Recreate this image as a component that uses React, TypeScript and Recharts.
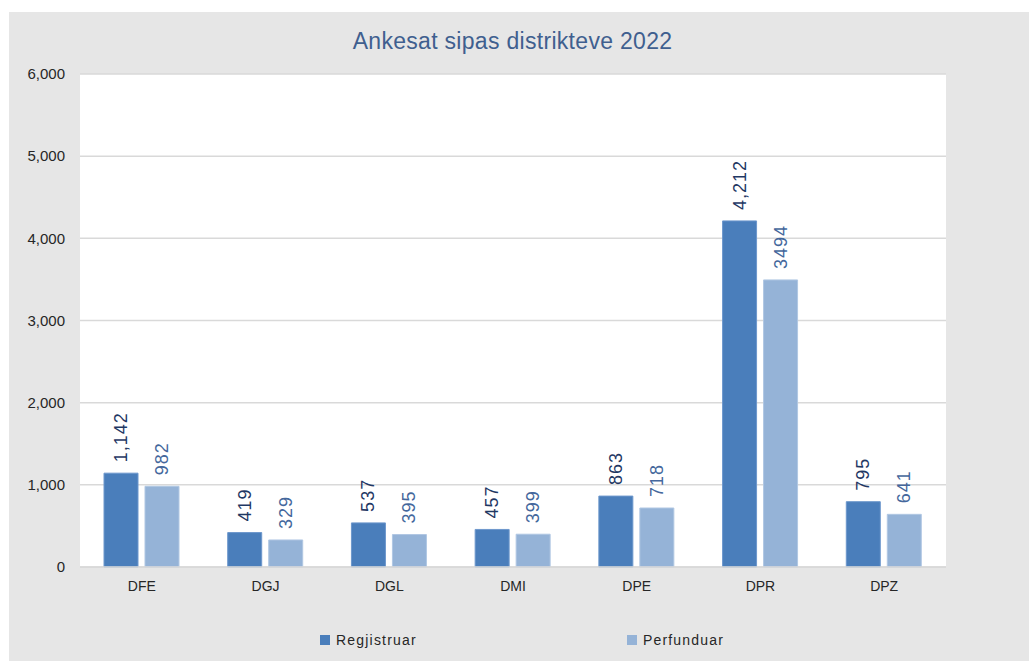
import { BarChart, Bar, XAxis, YAxis, CartesianGrid, LabelList } from 'recharts'

const districts = ['DFE', 'DGJ', 'DGL', 'DMI', 'DPE', 'DPR', 'DPZ']
const registered = [1142, 419, 537, 457, 863, 4212, 795]
const completed = [982, 329, 395, 399, 718, 3494, 641]
const yTicks = [0, 1000, 2000, 3000, 4000, 5000, 6000]

const DARK = '#4a7ebb'
const LIGHT = '#95b3d7'
const FONT = '"Liberation Sans", Arial, sans-serif'

const data = districts.map((name, i) => ({
  name,
  Regjistruar: registered[i],
  Perfunduar: completed[i],
}))

const fmt = (v: number) => v.toLocaleString('en-US')

function rotatedLabel(color: string, withComma: boolean) {
  return (props: any) => {
    const { x, y, width, value } = props
    const cx = Number(x) + Number(width) / 2
    const top = Number(y) - 11
    return (
      <text
        x={cx}
        y={top}
        transform={`rotate(-90 ${cx} ${top})`}
        textAnchor="start"
        dominantBaseline="central"
        fill={color}
        fontSize={18}
        letterSpacing={1}
        fontFamily={FONT}
      >
        {withComma ? fmt(value) : String(value)}
      </text>
    )
  }
}

function LegendItem({ color, label }: { color: string; label: string }) {
  return (
    <div style={{ display: 'flex', alignItems: 'center', gap: 6 }}>
      <span style={{ width: 10, height: 10, background: color, display: 'inline-block' }} />
      <span style={{ letterSpacing: 1.2 }}>{label}</span>
    </div>
  )
}

export default function App() {
  return (
    <div
      style={{
        position: 'absolute',
        left: 9,
        top: 12,
        width: 1020,
        height: 649,
        background: '#e6e6e6',
        fontFamily: FONT,
      }}
    >
      <div
        style={{
          position: 'absolute',
          top: 16,
          left: 0,
          width: 1007,
          textAlign: 'center',
          fontSize: 23,
          letterSpacing: 0.3,
          color: '#3f5f8f',
        }}
      >
        Ankesat sipas distrikteve 2022
      </div>
      <BarChart
        width={1020}
        height={649}
        data={data}
        margin={{ top: 62, right: 83, left: 0, bottom: 64 }}
        barSize={34}
        barGap={7}
      >
        <CartesianGrid vertical={false} stroke="#d9d9d9" strokeWidth={1.5} fill="#ffffff" />
        <XAxis
          dataKey="name"
          axisLine={{ stroke: '#d9d9d9', strokeWidth: 1.5 }}
          tickLine={false}
          tickSize={0}
          tickMargin={14}
          height={30}
          tick={{ fontSize: 14, fill: '#262626', fontFamily: FONT }}
        />
        <YAxis
          domain={[0, 6000]}
          ticks={yTicks}
          tickFormatter={fmt}
          axisLine={false}
          tickLine={false}
          tickSize={0}
          tickMargin={15}
          width={71}
          tick={{ fontSize: 15, fill: '#262626', fontFamily: FONT }}
        />
        <Bar dataKey="Regjistruar" fill={DARK} stroke="#6d97cc" strokeWidth={1} isAnimationActive={false}>
          <LabelList dataKey="Regjistruar" content={rotatedLabel('#1f3864', true)} />
        </Bar>
        <Bar dataKey="Perfunduar" fill={LIGHT} stroke="#b0c7e3" strokeWidth={1} isAnimationActive={false}>
          <LabelList dataKey="Perfunduar" content={rotatedLabel('#44679c', false)} />
        </Bar>
      </BarChart>
      <div
        style={{
          position: 'absolute',
          top: 620,
          left: 311,
          display: 'flex',
          gap: 210,
          fontSize: 14,
          color: '#262626',
        }}
      >
        <LegendItem color={DARK} label="Regjistruar" />
        <LegendItem color={LIGHT} label="Perfunduar" />
      </div>
    </div>
  )
}
